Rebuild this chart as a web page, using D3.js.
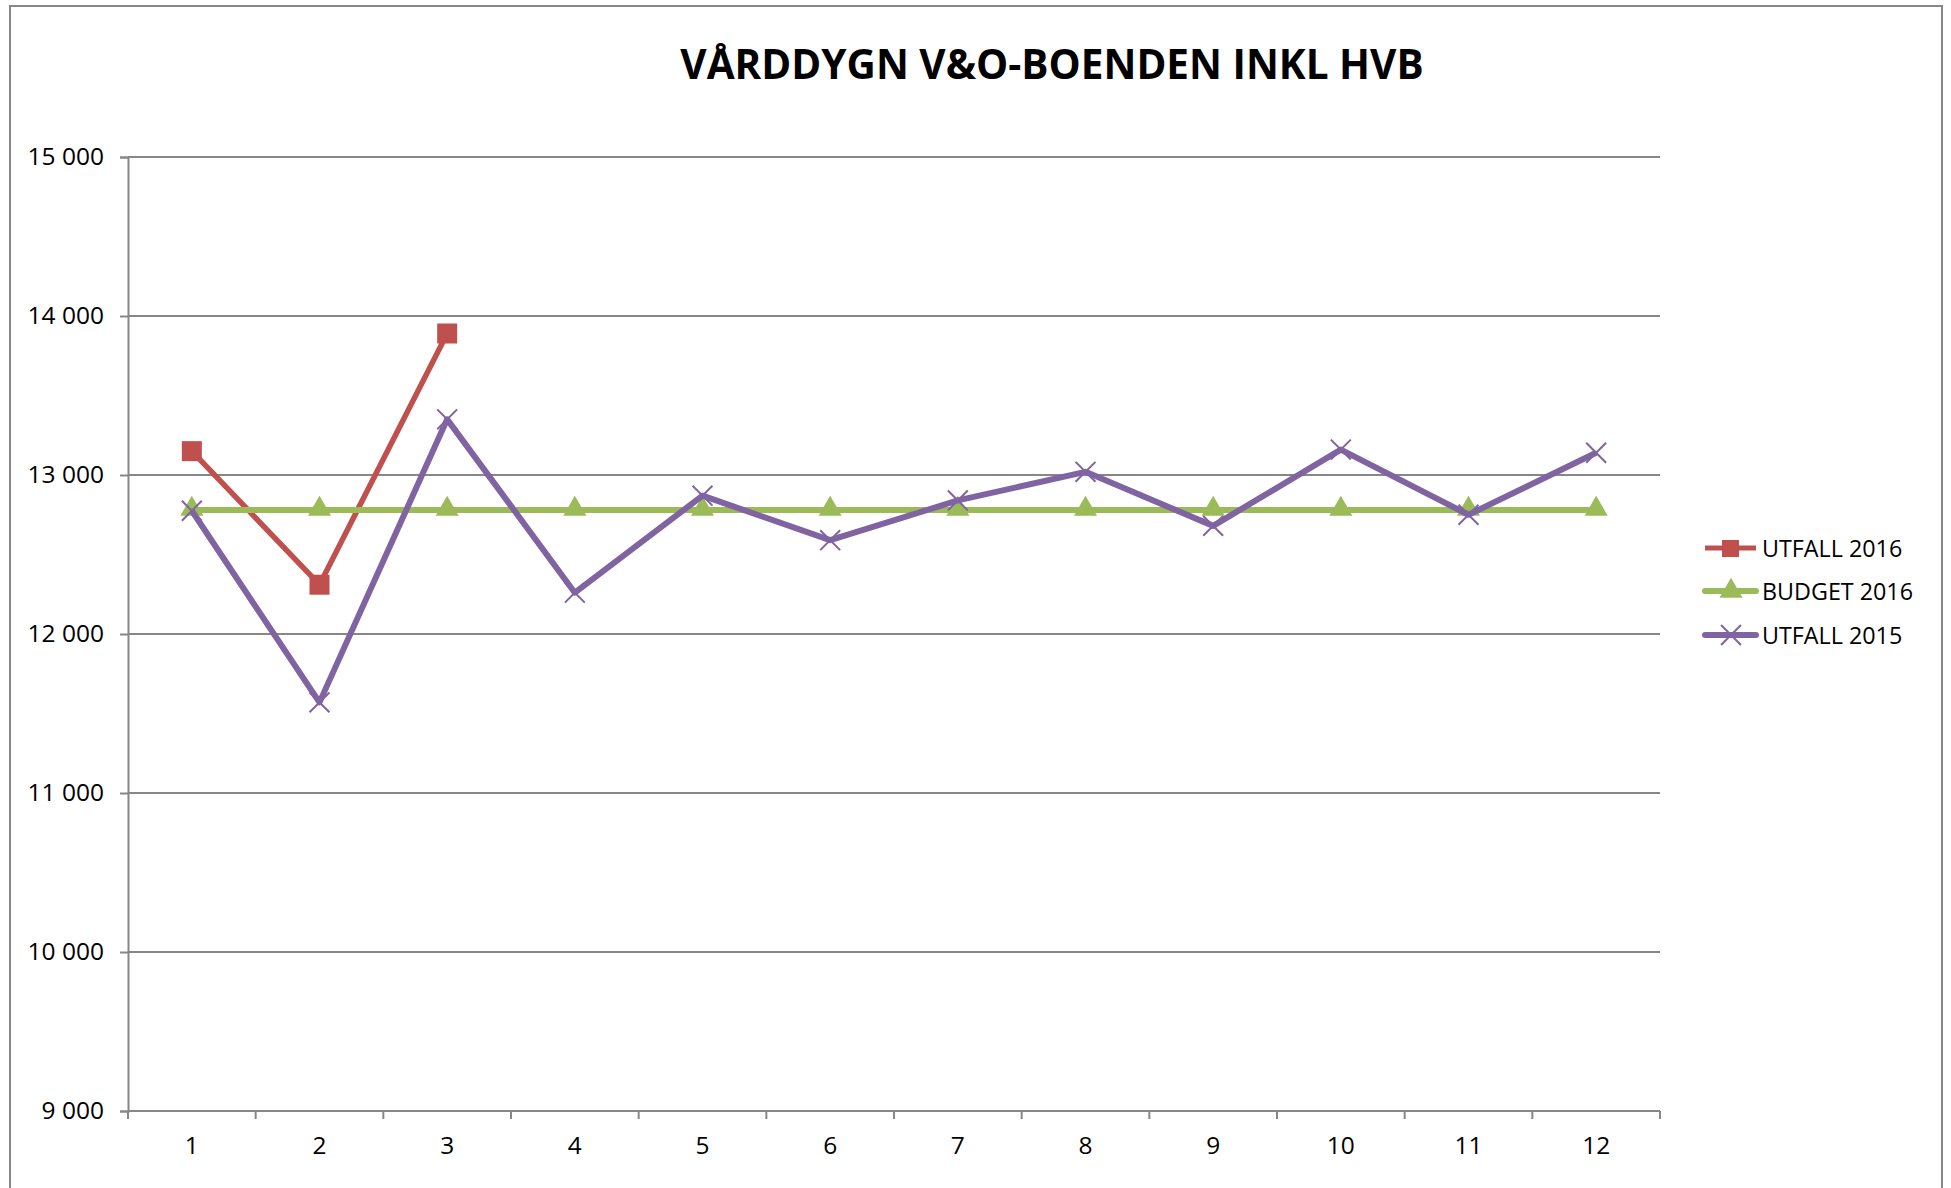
<!DOCTYPE html>
<html>
<head>
<meta charset="utf-8">
<script src="https://cdn.jsdelivr.net/npm/d3@7"></script>
<style>
  body { margin: 0; background: #fff; }
  text { font-family: "Open Sans", "DejaVu Sans", sans-serif; }
</style>
</head>
<body>
<script>
// chart values
const months = ["1", "2", "3", "4", "5", "6", "7", "8", "9", "10", "11", "12"];
const utfall2016 = [13150, 12310, 13890];
const budget2016 = [12780, 12780, 12780, 12780, 12780, 12780, 12780, 12780, 12780, 12780, 12780, 12780];
const utfall2015 = [12775, 11570, 13350, 12260, 12870, 12590, 12840, 13020, 12680, 13160, 12750, 13140];
const yTicks = [9000, 10000, 11000, 12000, 13000, 14000, 15000];
const seriesNames = ["UTFALL 2016", "BUDGET 2016", "UTFALL 2015"];
const title = "VÅRDDYGN V&O-BOENDEN INKL HVB";

const width = 1951, height = 1188;
const plotLeft = 128, plotRight = 1660, plotTop = 157, plotBottom = 1111;
const gridColor = "#878787";
const colors = { red: "#C0504D", green: "#9BBB59", purple: "#8064A2" };

const svg = d3.select("body").append("svg")
    .attr("width", width)
    .attr("height", height);

// outer chart border
svg.append("rect")
    .attr("x", 10).attr("y", 6)
    .attr("width", 1932).attr("height", 1200)
    .attr("fill", "none")
    .attr("stroke", gridColor)
    .attr("stroke-width", 2);

svg.append("text")
    .attr("x", 1052).attr("y", 79)
    .attr("text-anchor", "middle")
    .attr("font-size", 40.5)
    .attr("font-weight", "bold")
    .text(title);

const x = d3.scaleBand().domain(months).range([plotLeft, plotRight]);
const y = d3.scaleLinear().domain([9000, 15000]).range([plotBottom, plotTop]);
const cx = d => x(d) + x.bandwidth() / 2;

const sv = d3.formatLocale({ decimal: ",", thousands: " ", grouping: [3], currency: ["", " kr"] });
const fmt = sv.format(",");

// gridlines
svg.append("g").selectAll("line")
    .data(yTicks.slice(1))
    .enter().append("line")
    .attr("x1", plotLeft).attr("x2", plotRight)
    .attr("y1", d => y(d)).attr("y2", d => y(d))
    .attr("stroke", gridColor)
    .attr("stroke-width", 2);

// y axis
const yAxis = svg.append("g")
    .attr("transform", `translate(${plotLeft},0)`)
    .call(d3.axisLeft(y).tickValues(yTicks).tickFormat(fmt).tickSize(8).tickPadding(16));
yAxis.select(".domain").attr("stroke", gridColor).attr("stroke-width", 2);
yAxis.selectAll(".tick line").attr("stroke", gridColor).attr("stroke-width", 2);
yAxis.selectAll("text").attr("font-size", 24.5).attr("fill", "#000")
    .style("font-family", "'Open Sans', sans-serif");

// x axis (labels centered, ticks between categories)
const xAxis = svg.append("g")
    .attr("transform", `translate(0,${plotBottom})`)
    .call(d3.axisBottom(x).tickSize(0).tickPadding(26));
xAxis.select(".domain").remove();
xAxis.selectAll("text").attr("font-size", 24.5).attr("fill", "#000")
    .style("font-family", "'Open Sans', sans-serif");

svg.append("line")
    .attr("x1", plotLeft).attr("x2", plotRight)
    .attr("y1", plotBottom).attr("y2", plotBottom)
    .attr("stroke", gridColor).attr("stroke-width", 2);
svg.append("g").selectAll("line")
    .data(months.concat(["end"]))
    .enter().append("line")
    .attr("x1", (d, i) => i < months.length ? x(d) : plotRight)
    .attr("x2", (d, i) => i < months.length ? x(d) : plotRight)
    .attr("y1", plotBottom).attr("y2", plotBottom + 8)
    .attr("stroke", gridColor).attr("stroke-width", 2);

const line = d3.line().x((d, i) => cx(months[i])).y(d => y(d));

// UTFALL 2016
svg.append("path")
    .datum(utfall2016)
    .attr("d", line)
    .attr("fill", "none")
    .attr("stroke", colors.red)
    .attr("stroke-width", 5.5)
    .attr("stroke-linejoin", "round");
svg.append("g").selectAll("rect")
    .data(utfall2016)
    .enter().append("rect")
    .attr("x", (d, i) => cx(months[i]) - 10)
    .attr("y", d => y(d) - 10)
    .attr("width", 20).attr("height", 20)
    .attr("fill", colors.red);

// BUDGET 2016
svg.append("path")
    .datum(budget2016)
    .attr("d", line)
    .attr("fill", "none")
    .attr("stroke", colors.green)
    .attr("stroke-width", 6);
const tri = d3.symbol().type(d3.symbolTriangle).size(230);
svg.append("g").selectAll("path")
    .data(budget2016)
    .enter().append("path")
    .attr("d", tri)
    .attr("transform", (d, i) => `translate(${cx(months[i])},${y(d) - 1})`)
    .attr("fill", colors.green);

// UTFALL 2015
svg.append("path")
    .datum(utfall2015)
    .attr("d", line)
    .attr("fill", "none")
    .attr("stroke", colors.purple)
    .attr("stroke-width", 6)
    .attr("stroke-linejoin", "round");
const cross = d3.symbol().type(d3.symbolX).size(260);
svg.append("g").selectAll("path")
    .data(utfall2015)
    .enter().append("path")
    .attr("d", cross)
    .attr("transform", (d, i) => `translate(${cx(months[i])},${y(d)})`)
    .attr("fill", "none")
    .attr("stroke", colors.purple)
    .attr("stroke-width", 2);

// legend
const legendY = [548, 591, 635];
const legend = svg.append("g");
seriesNames.forEach(function(name, i) {
    const g = legend.append("g").attr("transform", `translate(0,${legendY[i]})`);
    const c = [colors.red, colors.green, colors.purple][i];
    g.append("line")
        .attr("x1", 1705).attr("x2", 1756)
        .attr("stroke", c)
        .attr("stroke-width", i == 0 ? 5 : 6)
        .attr("stroke-linecap", i == 0 ? "butt" : "round");
    if (i == 0) {
        g.append("rect").attr("x", 1722).attr("y", -8).attr("width", 17).attr("height", 17).attr("fill", c);
    } else if (i == 1) {
        g.append("path").attr("d", tri).attr("transform", "translate(1731,0)").attr("fill", c);
    } else {
        g.append("path").attr("d", cross).attr("transform", "translate(1731,0)")
            .attr("fill", "none").attr("stroke", c).attr("stroke-width", 2);
    }
    g.append("text")
        .attr("x", 1762).attr("y", 8.5)
        .attr("font-size", 23.3)
        .text(name);
});
</script>
</body>
</html>
